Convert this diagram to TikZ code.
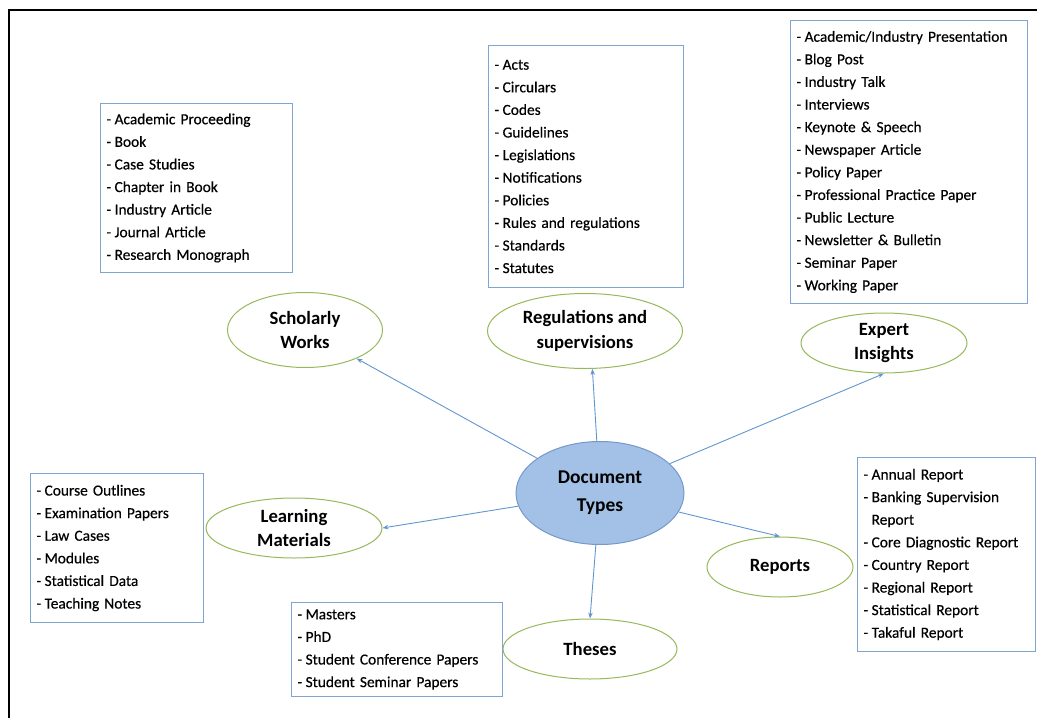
\documentclass[tikz,border=0pt]{standalone}
\usepackage{fontspec}
\setmainfont{Carlito}
\newfontfamily\listfont{Carlito}[FakeBold=0.35]
\usetikzlibrary{shapes.geometric,arrows.meta}
\hyphenpenalty=10000

\definecolor{boxblue}{RGB}{128,166,208}
\definecolor{linkblue}{RGB}{96,150,208}
\definecolor{ovalgreen}{RGB}{150,185,90}
\definecolor{hubfill}{RGB}{163,193,230}
\definecolor{hubdraw}{RGB}{118,152,202}

% list bullet: a hyphen followed by a narrow gap
\newcommand\lstdash{-\hspace{0.22em}}

\tikzset{
  listbox/.style={draw=boxblue, line width=1pt, fill=white, anchor=north west,
    align=left, inner xsep=6pt, inner ysep=4pt,
    font=\listfont\fontsize{15.4}{22.6}\selectfont},
  topic/.style={ellipse, draw=ovalgreen, line width=1pt, fill=white,
    inner sep=0pt, align=center,
    font=\fontsize{18.7}{24.5}\selectfont\bfseries},
  hub/.style={ellipse, draw=hubdraw, line width=1pt, fill=hubfill,
    inner sep=0pt, align=center,
    font=\fontsize{19.5}{28}\selectfont\bfseries},
  link/.style={draw=linkblue, line width=0.9pt, -{Stealth[length=6pt,width=4.5pt]}},
  frame/.style={draw=black, line width=1.4pt}
}

\begin{document}
\begin{tikzpicture}[x=1pt,y=-1pt]
\useasboundingbox (0,0) rectangle (1037,718);

% outer frame (top and left edges)
\coordinate (fbl) at (9,718);
\coordinate (ftl) at (9,10);
\coordinate (ftr) at (1037,10);
\draw[frame] (fbl) -- (ftl) -- (ftr);

% central hub and topic ovals
\node[hub, minimum width=168pt, minimum height=103pt] (doc) at (600,493) {Document\\Types};
\node[topic, minimum width=155pt, minimum height=75pt] (schol) at (305,330) {Scholarly\\Works};
\node[topic, minimum width=195pt, minimum height=75pt] (reg) at (585,331) {Regulations and\\supervisions};
\node[topic, minimum width=166pt, minimum height=60pt] (exp) at (884,343) {Expert\\Insights};
\node[topic, minimum width=176pt, minimum height=60pt] (learn) at (294,528) {Learning\\Materials};
\node[topic, minimum width=146pt, minimum height=60pt] (rep) at (780,567) {Reports};
\node[topic, minimum width=174pt, minimum height=60pt] (the) at (590,649) {Theses};

% connectors from the hub
\draw[link] (doc) -- (schol);
\draw[link] (doc) -- (reg.-79);
\draw[link] (doc) -- (exp.south);
\draw[link] (doc) -- (learn.east);
\draw[link] (doc) -- (rep.north);
\draw[link] (doc) -- (the.north);

% lists of document types
\node[listbox, text width=180pt, minimum height=169pt] (lschol) at (100,103) {%
\lstdash Academic Proceeding\\
\lstdash Book\\
\lstdash Case Studies\\
\lstdash Chapter in Book\\
\lstdash Industry Article\\
\lstdash Journal Article\\
\lstdash Research Monograph};

\node[listbox, text width=183pt, minimum height=242pt] (lreg) at (488,45) {%
\lstdash Acts\\
\lstdash Circulars\\
\lstdash Codes\\
\lstdash Guidelines\\
\lstdash Legislations\\
\lstdash Notifications\\
\lstdash Policies\\
\lstdash Rules and regulations\\
\lstdash Standards\\
\lstdash Statutes};

\node[listbox, text width=225pt, minimum height=283pt] (lexp) at (790,20) {%
\lstdash Academic/Industry Presentation\\
\lstdash Blog Post\\
\lstdash Industry Talk\\
\lstdash Interviews\\
\lstdash Keynote \& Speech\\
\lstdash Newspaper Article\\
\lstdash Policy Paper\\
\lstdash Professional Practice Paper\\
\lstdash Public Lecture\\
\lstdash Newsletter \& Bulletin\\
\lstdash Seminar Paper\\
\lstdash Working Paper};

\node[listbox, text width=161pt, minimum height=149pt] (llearn) at (30,473) {%
\lstdash Course Outlines\\
\lstdash Examination Papers\\
\lstdash Law Cases\\
\lstdash Modules\\
\lstdash Statistical Data\\
\lstdash Teaching Notes};

\node[listbox, text width=166pt, minimum height=194pt] (lrep) at (857,457) {%
\lstdash Annual Report\\
\lstdash Banking Supervision\\
\phantom{\lstdash}Report\\
\lstdash Core Diagnostic Report\\
\lstdash Country Report\\
\lstdash Regional Report\\
\lstdash Statistical Report\\
\lstdash Takaful Report};

\node[listbox, text width=199pt, minimum height=94pt] (lthe) at (291,602) {%
\lstdash Masters\\
\lstdash PhD\\
\lstdash Student Conference Papers\\
\lstdash Student Seminar Papers};
\end{tikzpicture}
\end{document}
